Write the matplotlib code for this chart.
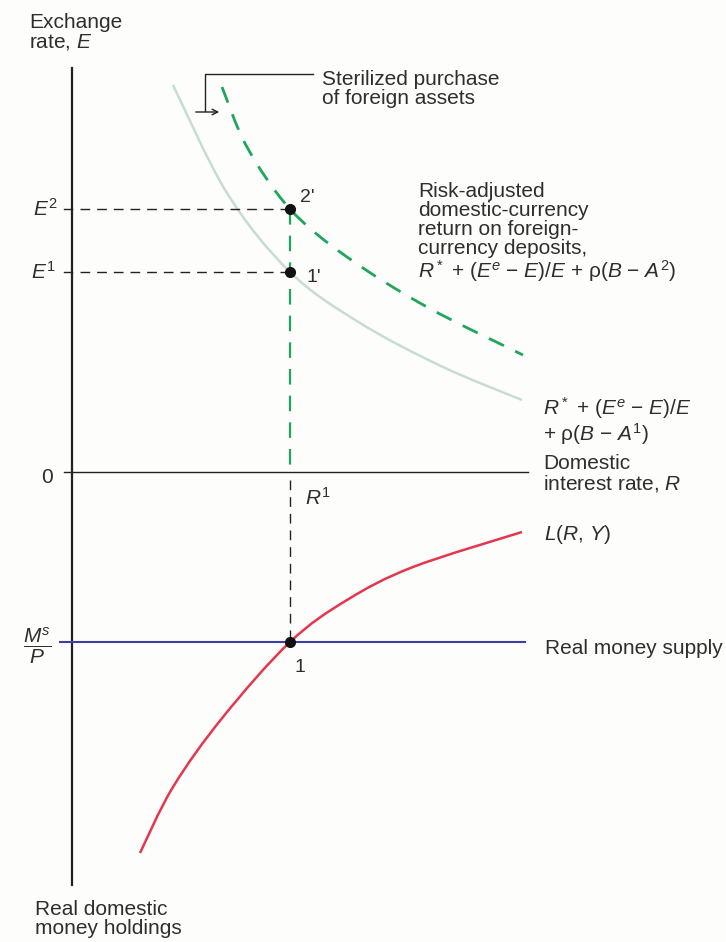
import numpy as np
import matplotlib.pyplot as plt
from matplotlib.path import Path
from matplotlib.patches import PathPatch

plt.rcParams['font.family'] = ['Liberation Sans', 'DejaVu Sans']
plt.rcParams['mathtext.fontset'] = 'custom'
plt.rcParams['mathtext.rm'] = 'Liberation Sans'
plt.rcParams['mathtext.it'] = 'Liberation Sans:italic'

# diagram values (x = domestic interest rate, y > 0 exchange rate, y < 0 money holdings)
R1 = 2.18
E1 = 2.00
E2 = 2.63
MS_P = -1.70

# old return curve (asset stock A1)
ret1_x = [1.01, 1.55, 2.18, 2.88, 3.71, 4.50]
ret1_y = [3.87, 2.79, 2.00, 1.49, 1.05, 0.72]

# new return curve (asset stock A2) after sterilized purchase
ret2_x = [1.50, 1.75, 2.18, 2.75, 3.55, 4.51]
ret2_y = [3.85, 3.25, 2.63, 2.15, 1.65, 1.17]

# money demand L(R, Y), drawn downward from the origin
ld_x = [0.68, 1.01, 1.51, 2.18, 2.75, 3.41, 4.50]
ld_y = [-3.81, -3.15, -2.45, -1.70, -1.28, -0.95, -0.60]

TXT = '#2e2e2e'
GREEN = '#1fa55c'
LIGHT = '#c8ddd2'
RED = '#e6364e'
BLUE = '#3c3cab'
FS = 15


def smooth_path(xs, ys):
    # Catmull-Rom through the read points, drawn as cubic Bezier segments
    p = np.column_stack([xs, ys])
    verts = [p[0]]
    codes = [Path.MOVETO]
    for i in range(len(p) - 1):
        p0 = p[i - 1] if i > 0 else p[i]
        p3 = p[i + 2] if i + 2 < len(p) else p[i + 1]
        c1 = p[i] + (p[i + 1] - p0) / 6
        c2 = p[i + 1] - (p3 - p[i]) / 6
        verts += [c1, c2, p[i + 1]]
        codes += [Path.CURVE4] * 3
    return Path(verts, codes)


fig = plt.figure(figsize=(7.26, 9.42), dpi=100, facecolor='#fdfdfb')
ax = fig.add_axes([0, 0, 1, 1])
ax.set_xlim(-0.72, 6.54)
ax.set_ylim(-4.70, 4.72)
ax.axis('off')

# axes
ax.plot([0, 0], [4.04, -4.13], color='#222222', lw=1.6)
ax.plot([0, 4.56], [0, 0], color='#222222', lw=1.0)
for y in [E2, E1, 0]:
    ax.plot([-0.08, 0], [y, y], color='#222222', lw=1.0)

# curves
ax.add_patch(PathPatch(smooth_path(ret1_x, ret1_y), fill=False, edgecolor=LIGHT, lw=1.8))
ax.add_patch(PathPatch(smooth_path(ret2_x, ret2_y), fill=False, edgecolor=GREEN, lw=2.0,
                       linestyle=(0, (6, 4.5))))
ax.add_patch(PathPatch(smooth_path(ld_x, ld_y), fill=False, edgecolor=RED, lw=1.8))
ax.plot([-0.12, 4.53], [MS_P, MS_P], color=BLUE, lw=1.5)

# guide lines
for y in [E2, E1]:
    ax.plot([0.08, R1], [y, y], color='#222222', lw=1.0, dashes=(7, 5))
ax.plot([R1, R1], [E2, 0], color=GREEN, lw=1.6, dashes=(7, 5))
ax.plot([R1, R1], [-0.08, MS_P], color='#222222', lw=1.0, dashes=(7, 5))

# equilibrium points
ax.plot([R1, R1, R1], [E2, E1, MS_P], 'o', color='#111111', ms=7)

# point labels
ax.text(2.28, 2.74, "2'", fontsize=14, color=TXT, va='center', ha='left')
ax.text(2.35, 1.95, "1'", fontsize=14, color=TXT, va='center', ha='left')
ax.text(2.28, -1.95, "1", fontsize=14, color=TXT, va='center', ha='center')
ax.text(2.33, -0.26, r'$R^1$', fontsize=FS, color=TXT, va='center', ha='left')

# axis value labels
ax.text(-0.14, E2, r'$E^2$', fontsize=FS, color=TXT, va='center', ha='right')
ax.text(-0.16, E1, r'$E^1$', fontsize=FS, color=TXT, va='center', ha='right')
ax.text(-0.19, -0.06, '0', fontsize=FS, color=TXT, va='center', ha='right')
ax.text(-0.35, MS_P - 0.04, r'$\dfrac{M^s}{P}$', fontsize=FS, color=TXT, va='center',
        ha='center')

# axis titles
ax.text(-0.43, 4.59, 'Exchange\nrate, $E$', fontsize=FS, color=TXT, va='top', ha='left',
        linespacing=1.0)
ax.text(-0.37, -4.28, 'Real domestic\nmoney holdings', fontsize=FS, color=TXT, va='top',
        ha='left', linespacing=1.0)

# curve labels
ax.text(3.46, 2.90, 'Risk-adjusted\ndomestic-currency\nreturn on foreign-\ncurrency deposits,\n'
        r'$R^*$ + ($E^e$ − $E$)/$E$ + ρ($B$ − $A^2$)',
        fontsize=FS, color=TXT, va='top', ha='left', linespacing=1.0)
ax.text(4.71, 0.77, r'$R^*$ + ($E^e$ − $E$)/$E$' + '\n+ ρ($B$ − $A^1$)',
        fontsize=FS, color=TXT, va='top', ha='left', linespacing=1.0)
ax.text(4.71, 0.18, 'Domestic\ninterest rate, $R$', fontsize=FS, color=TXT, va='top',
        ha='left', linespacing=1.0)
ax.text(4.72, -0.63, '$L$($R$, $Y$)', fontsize=FS, color=TXT, va='center', ha='left')
ax.text(4.73, -1.76, 'Real money supply', fontsize=FS, color=TXT, va='center', ha='left')

# sterilized purchase callout
ax.plot([1.33, 1.33, 2.41], [3.61, 3.98, 3.98], color='#222222', lw=1.0)
ax.annotate('', xy=(1.50, 3.60), xytext=(1.21, 3.60),
            arrowprops=dict(arrowstyle='->', color='#222222', lw=1.0))
ax.text(2.50, 4.02, 'Sterilized purchase\nof foreign assets', fontsize=FS, color=TXT,
        va='top', ha='left', linespacing=1.0)

fig.savefig('out.png', dpi=100, facecolor=fig.get_facecolor())
